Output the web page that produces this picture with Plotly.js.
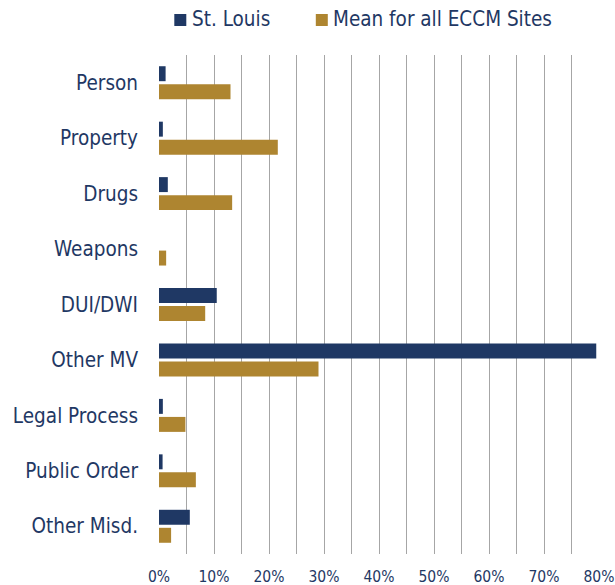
<!DOCTYPE html>
<html>
<head>
<meta charset="utf-8">
<script src="https://cdn.plot.ly/plotly-3.0.1.min.js"></script>
<style>html,body{margin:0;padding:0;background:#fff;}#chart{width:615px;height:585px;}</style>
</head>
<body>
<div id="chart"></div>
<script>
const categories = ["Person", "Property", "Drugs", "Weapons", "DUI/DWI", "Other MV", "Legal Process", "Public Order", "Other Misd."];
const stLouis = [1.2, 0.7, 1.6, 0, 10.5, 79.5, 0.7, 0.65, 5.6];
const meanAll = [13.0, 21.6, 13.3, 1.3, 8.4, 29.0, 4.8, 6.7, 2.2];
const seriesNames = ["St. Louis", "Mean for all ECCM Sites"];
const tickVals = [0, 10, 20, 30, 40, 50, 60, 70, 80];
const tickText = ["0%", "10%", "20%", "30%", "40%", "50%", "60%", "70%", "80%"];

const navy = "#1F3864";
const gold = "#AE8530";
const textColor = "#1F3864";
const font = "DejaVu Sans Condensed, DejaVu Sans, sans-serif";

const W = 615, H = 585;
const L = 158.7, R = 16.3, T = 55, B = 31.3;
const pw = W - L - R, ph = H - T - B;
const px = x => (x - L) / pw;
const py = y => (H - B - y) / ph;

const traces = [
  {type: "bar", orientation: "h", name: seriesNames[0], y: categories, x: stLouis, marker: {color: navy}, showlegend: false},
  {type: "bar", orientation: "h", name: seriesNames[1], y: categories, x: meanAll, marker: {color: gold}, showlegend: false}
];

// legend drawn as swatches + labels
const legendItems = [
  {color: navy, sx: 174, tx: 190, text: seriesNames[0]},
  {color: gold, sx: 315.5, tx: 331, text: seriesNames[1]}
];
const shapes = legendItems.map(it => ({
  type: "rect", xref: "paper", yref: "paper",
  x0: px(it.sx), x1: px(it.sx + 12), y0: py(26), y1: py(14),
  fillcolor: it.color, line: {width: 0}
}));
const annotations = legendItems.map(it => ({
  xref: "paper", yref: "paper", x: px(it.tx), y: py(19.5), xanchor: "left", yanchor: "middle",
  text: it.text, showarrow: false, font: {size: 20.5, color: textColor, family: font}
}));

const layout = {
  width: W, height: H,
  margin: {l: L, r: R, t: T, b: B},
  paper_bgcolor: "#fff", plot_bgcolor: "#fff",
  barmode: "group", bargap: 0.35, bargroupgap: 0.17,
  font: {family: font, color: textColor, size: 15},
  showlegend: false,
  shapes: shapes,
  annotations: annotations,
  xaxis: {range: [0, 80], tickvals: tickVals, ticktext: tickText, showgrid: true, gridcolor: "#A6A6A6", gridwidth: 1,
          zeroline: false, showline: false, ticks: "", tickfont: {size: 15.5, color: textColor, family: font},
          ticklabelstandoff: 11, fixedrange: true, minor: {dtick: 5, showgrid: true, gridcolor: "#A6A6A6", gridwidth: 1}},
  yaxis: {autorange: "reversed", type: "category", showgrid: false, zeroline: false, showline: false, ticks: "",
          tickfont: {size: 20.5, color: textColor, family: font}, ticklabelstandoff: 20, fixedrange: true}
};

Plotly.newPlot("chart", traces, layout, {displayModeBar: false, staticPlot: true});
</script>
</body>
</html>
